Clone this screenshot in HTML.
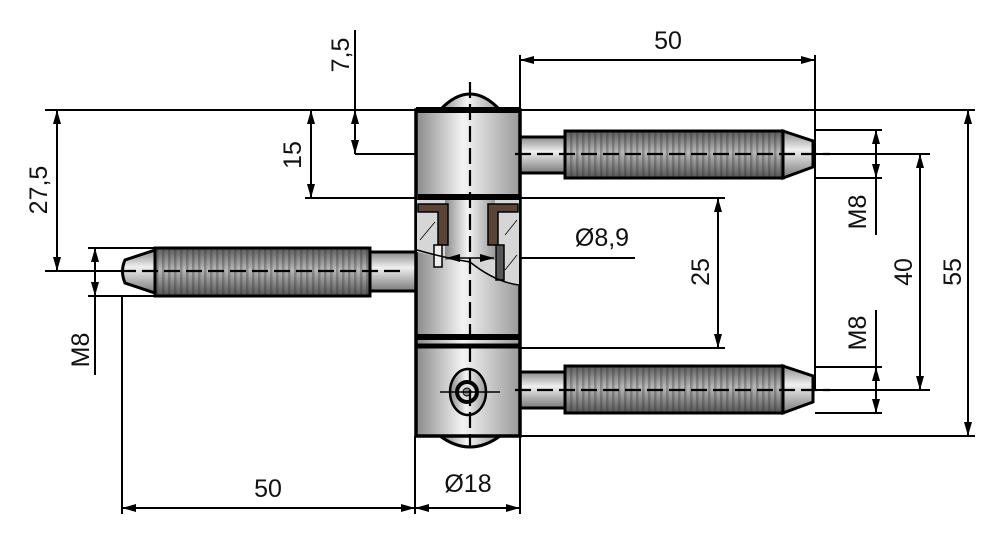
<!DOCTYPE html>
<html><head><meta charset="utf-8"><style>
html,body{margin:0;padding:0;background:#fff;}
svg{display:block;}
text{font-family:"Liberation Sans",sans-serif;font-size:25px;fill:#111;}
</style></head><body>
<svg width="1000" height="548" viewBox="0 0 1000 548" xmlns="http://www.w3.org/2000/svg">
<defs>
<linearGradient id="cyl" x1="0" x2="1" y1="0" y2="0">
<stop offset="0" stop-color="#8a8a8a"/><stop offset="0.45" stop-color="#f4f4f4"/><stop offset="1" stop-color="#9a9a9a"/></linearGradient>
<linearGradient id="pinv" x1="0" x2="0" y1="0" y2="1">
<stop offset="0" stop-color="#8a8a8a"/><stop offset="0.4" stop-color="#f0f0f0"/><stop offset="1" stop-color="#7a7a7a"/></linearGradient>
<linearGradient id="thrv" x1="0" x2="0" y1="0" y2="1">
<stop offset="0" stop-color="#5a5a5a"/><stop offset="0.45" stop-color="#b8b8b8"/><stop offset="1" stop-color="#555"/></linearGradient>
<pattern id="thr" width="6" height="10" patternUnits="userSpaceOnUse">
<rect x="0" width="2.5" height="10" fill="#2a2a2a" opacity="0.3"/></pattern>
<marker id="a" markerWidth="14" markerHeight="8" refX="14" refY="4" orient="auto-start-reverse" markerUnits="userSpaceOnUse">
<path d="M0,0 L14,4 L0,8 z" fill="#000"/></marker>
</defs>

<g stroke="#000" stroke-width="2" fill="none">
<line x1="45" y1="110" x2="975" y2="110"/>
<line x1="355" y1="154" x2="930" y2="154"/>
<line x1="305" y1="198" x2="725" y2="198"/>
<line x1="45" y1="271" x2="415" y2="271"/>
<line x1="88" y1="248" x2="155" y2="248"/>
<line x1="88" y1="296" x2="155" y2="296"/>
<line x1="520" y1="348" x2="725" y2="348"/>
<line x1="815" y1="390" x2="930" y2="390"/>
<line x1="520" y1="436" x2="975" y2="436"/>
<line x1="815" y1="130" x2="882" y2="130"/>
<line x1="815" y1="178" x2="882" y2="178"/>
<line x1="815" y1="367" x2="882" y2="367"/>
<line x1="815" y1="413" x2="882" y2="413"/>
<line x1="520" y1="55" x2="520" y2="110"/>
<line x1="815" y1="55" x2="815" y2="390"/>
<line x1="122" y1="296" x2="122" y2="514"/>
<line x1="415" y1="436" x2="415" y2="514"/>
<line x1="520" y1="436" x2="520" y2="514"/>
<line x1="355" y1="30" x2="355" y2="110"/>
</g>

<g stroke="#000" stroke-width="2" fill="none">
<line x1="520" y1="60" x2="815" y2="60" marker-start="url(#a)" marker-end="url(#a)"/>
<line x1="355" y1="110" x2="355" y2="154" marker-start="url(#a)" marker-end="url(#a)"/>
<line x1="311" y1="110" x2="311" y2="198" marker-start="url(#a)" marker-end="url(#a)"/>
<line x1="57" y1="110" x2="57" y2="271" marker-start="url(#a)" marker-end="url(#a)"/>
<line x1="95" y1="248" x2="95" y2="296" marker-start="url(#a)" marker-end="url(#a)"/>
<line x1="95" y1="296" x2="95" y2="375"/>
<line x1="718" y1="198" x2="718" y2="348" marker-start="url(#a)" marker-end="url(#a)"/>
<line x1="876" y1="130" x2="876" y2="178" marker-start="url(#a)" marker-end="url(#a)"/>
<line x1="876" y1="178" x2="876" y2="235"/>
<line x1="876" y1="367" x2="876" y2="413" marker-start="url(#a)" marker-end="url(#a)"/>
<line x1="876" y1="310" x2="876" y2="367"/>
<line x1="920" y1="154" x2="920" y2="390" marker-start="url(#a)" marker-end="url(#a)"/>
<line x1="968" y1="110" x2="968" y2="436" marker-start="url(#a)" marker-end="url(#a)"/>
<line x1="122" y1="508" x2="415" y2="508" marker-start="url(#a)" marker-end="url(#a)"/>
<line x1="415" y1="508" x2="520" y2="508" marker-start="url(#a)" marker-end="url(#a)"/>
<line x1="500" y1="258" x2="635" y2="258"/>
</g>

<g stroke="#000" stroke-width="3">
<path d="M155,250 L125,260 Q120,271 125,283 L155,293 z" fill="url(#pinv)"/>
<rect x="155" y="248" width="215" height="48" fill="url(#thrv)"/>
<rect x="155" y="248" width="215" height="48" fill="url(#thr)" stroke="none"/>
<rect x="155" y="248" width="215" height="48" fill="none"/>
<rect x="370" y="252" width="48" height="39" fill="url(#pinv)"/>
</g>
<g stroke="#000" stroke-width="3">
<g id="rp">
<rect x="517" y="137" width="50" height="36" fill="url(#pinv)"/>
<rect x="565" y="131" width="218" height="47" fill="url(#thrv)"/>
<rect x="565" y="131" width="218" height="47" fill="url(#thr)" stroke="none"/>
<rect x="565" y="131" width="218" height="47" fill="none"/>
<path d="M783,131 L813,141 L813,167 L783,178 z" fill="url(#pinv)"/>
</g>
<use href="#rp" transform="translate(0,235)"/>
</g>

<g stroke="#000">
<path d="M440,110 Q470,78 500,110 z" fill="url(#cyl)" stroke-width="3"/>
<path d="M440,436 Q470,458 500,436 z" fill="url(#cyl)" stroke-width="3"/>
<rect x="416" y="110" width="104" height="326" fill="url(#cyl)" stroke-width="3.5"/>
<path d="M417,200 L519,200 L519,285 Q495,280 470,262 Q445,258 417,252 z" fill="#d6d6d6" stroke="none"/>
<rect x="445" y="200" width="50" height="60" fill="url(#cyl)" stroke="none"/>
<path d="M418,204 L448,204 L448,245 L438,245 L438,212 L418,212 z" fill="#5a4438" stroke-width="1.5"/>
<path d="M518,204 L488,204 L488,245 L498,245 L498,212 L518,212 z" fill="#5a4438" stroke-width="1.5"/>
<rect x="496" y="245" width="8" height="35" fill="#555" stroke-width="1.5"/>
<rect x="434" y="245" width="8" height="22" fill="#eee" stroke-width="1.5"/>
<path d="M417,250 Q445,258 470,262 Q495,282 519,285" fill="none" stroke-width="1.5"/>
<line x1="420" y1="240" x2="435" y2="222" stroke-width="0.8"/>
<line x1="505" y1="270" x2="517" y2="255" stroke-width="0.8"/>
<line x1="505" y1="235" x2="517" y2="220" stroke-width="0.8"/>
<line x1="418" y1="197" x2="519" y2="197" stroke-width="6"/>
<line x1="416" y1="110" x2="520" y2="110" stroke-width="6"/>
<line x1="416" y1="337" x2="520" y2="337" stroke-width="6"/>
<line x1="416" y1="346" x2="520" y2="346" stroke-width="5"/>
<line x1="446" y1="258" x2="494" y2="258" stroke-width="1.6" marker-start="url(#a)" marker-end="url(#a)"/>
<ellipse cx="468" cy="392" rx="18" ry="23" fill="url(#cyl)" stroke-width="2.5"/>
<circle cx="467" cy="392" r="10" fill="#ddd" stroke-width="4"/>
<circle cx="467" cy="392" r="4" fill="#888" stroke-width="1"/>
</g>
<g stroke="#000" stroke-width="2.2" stroke-dasharray="16,6" fill="none">
<line x1="470" y1="82" x2="470" y2="448"/>
<line x1="515" y1="154" x2="830" y2="154"/>
<line x1="515" y1="390" x2="830" y2="390"/>
<line x1="120" y1="271" x2="400" y2="271"/>
<line x1="440" y1="392" x2="500" y2="392" stroke-dasharray="none" stroke-width="1.5"/>
</g>

<text x="668" y="49" text-anchor="middle">50</text>
<text x="268" y="497" text-anchor="middle">50</text>
<text x="468" y="492" text-anchor="middle">Ø18</text>
<text x="602" y="246" text-anchor="middle">Ø8,9</text>
<text transform="translate(349,55) rotate(-90)" text-anchor="middle">7,5</text>
<text transform="translate(301,155) rotate(-90)" text-anchor="middle">15</text>
<text transform="translate(47,190) rotate(-90)" text-anchor="middle">27,5</text>
<text transform="translate(89,350) rotate(-90)" text-anchor="middle">M8</text>
<text transform="translate(709,272) rotate(-90)" text-anchor="middle">25</text>
<text transform="translate(866,212) rotate(-90)" text-anchor="middle">M8</text>
<text transform="translate(866,333) rotate(-90)" text-anchor="middle">M8</text>
<text transform="translate(912,272) rotate(-90)" text-anchor="middle">40</text>
<text transform="translate(961,272) rotate(-90)" text-anchor="middle">55</text>
</svg>
</body></html>
